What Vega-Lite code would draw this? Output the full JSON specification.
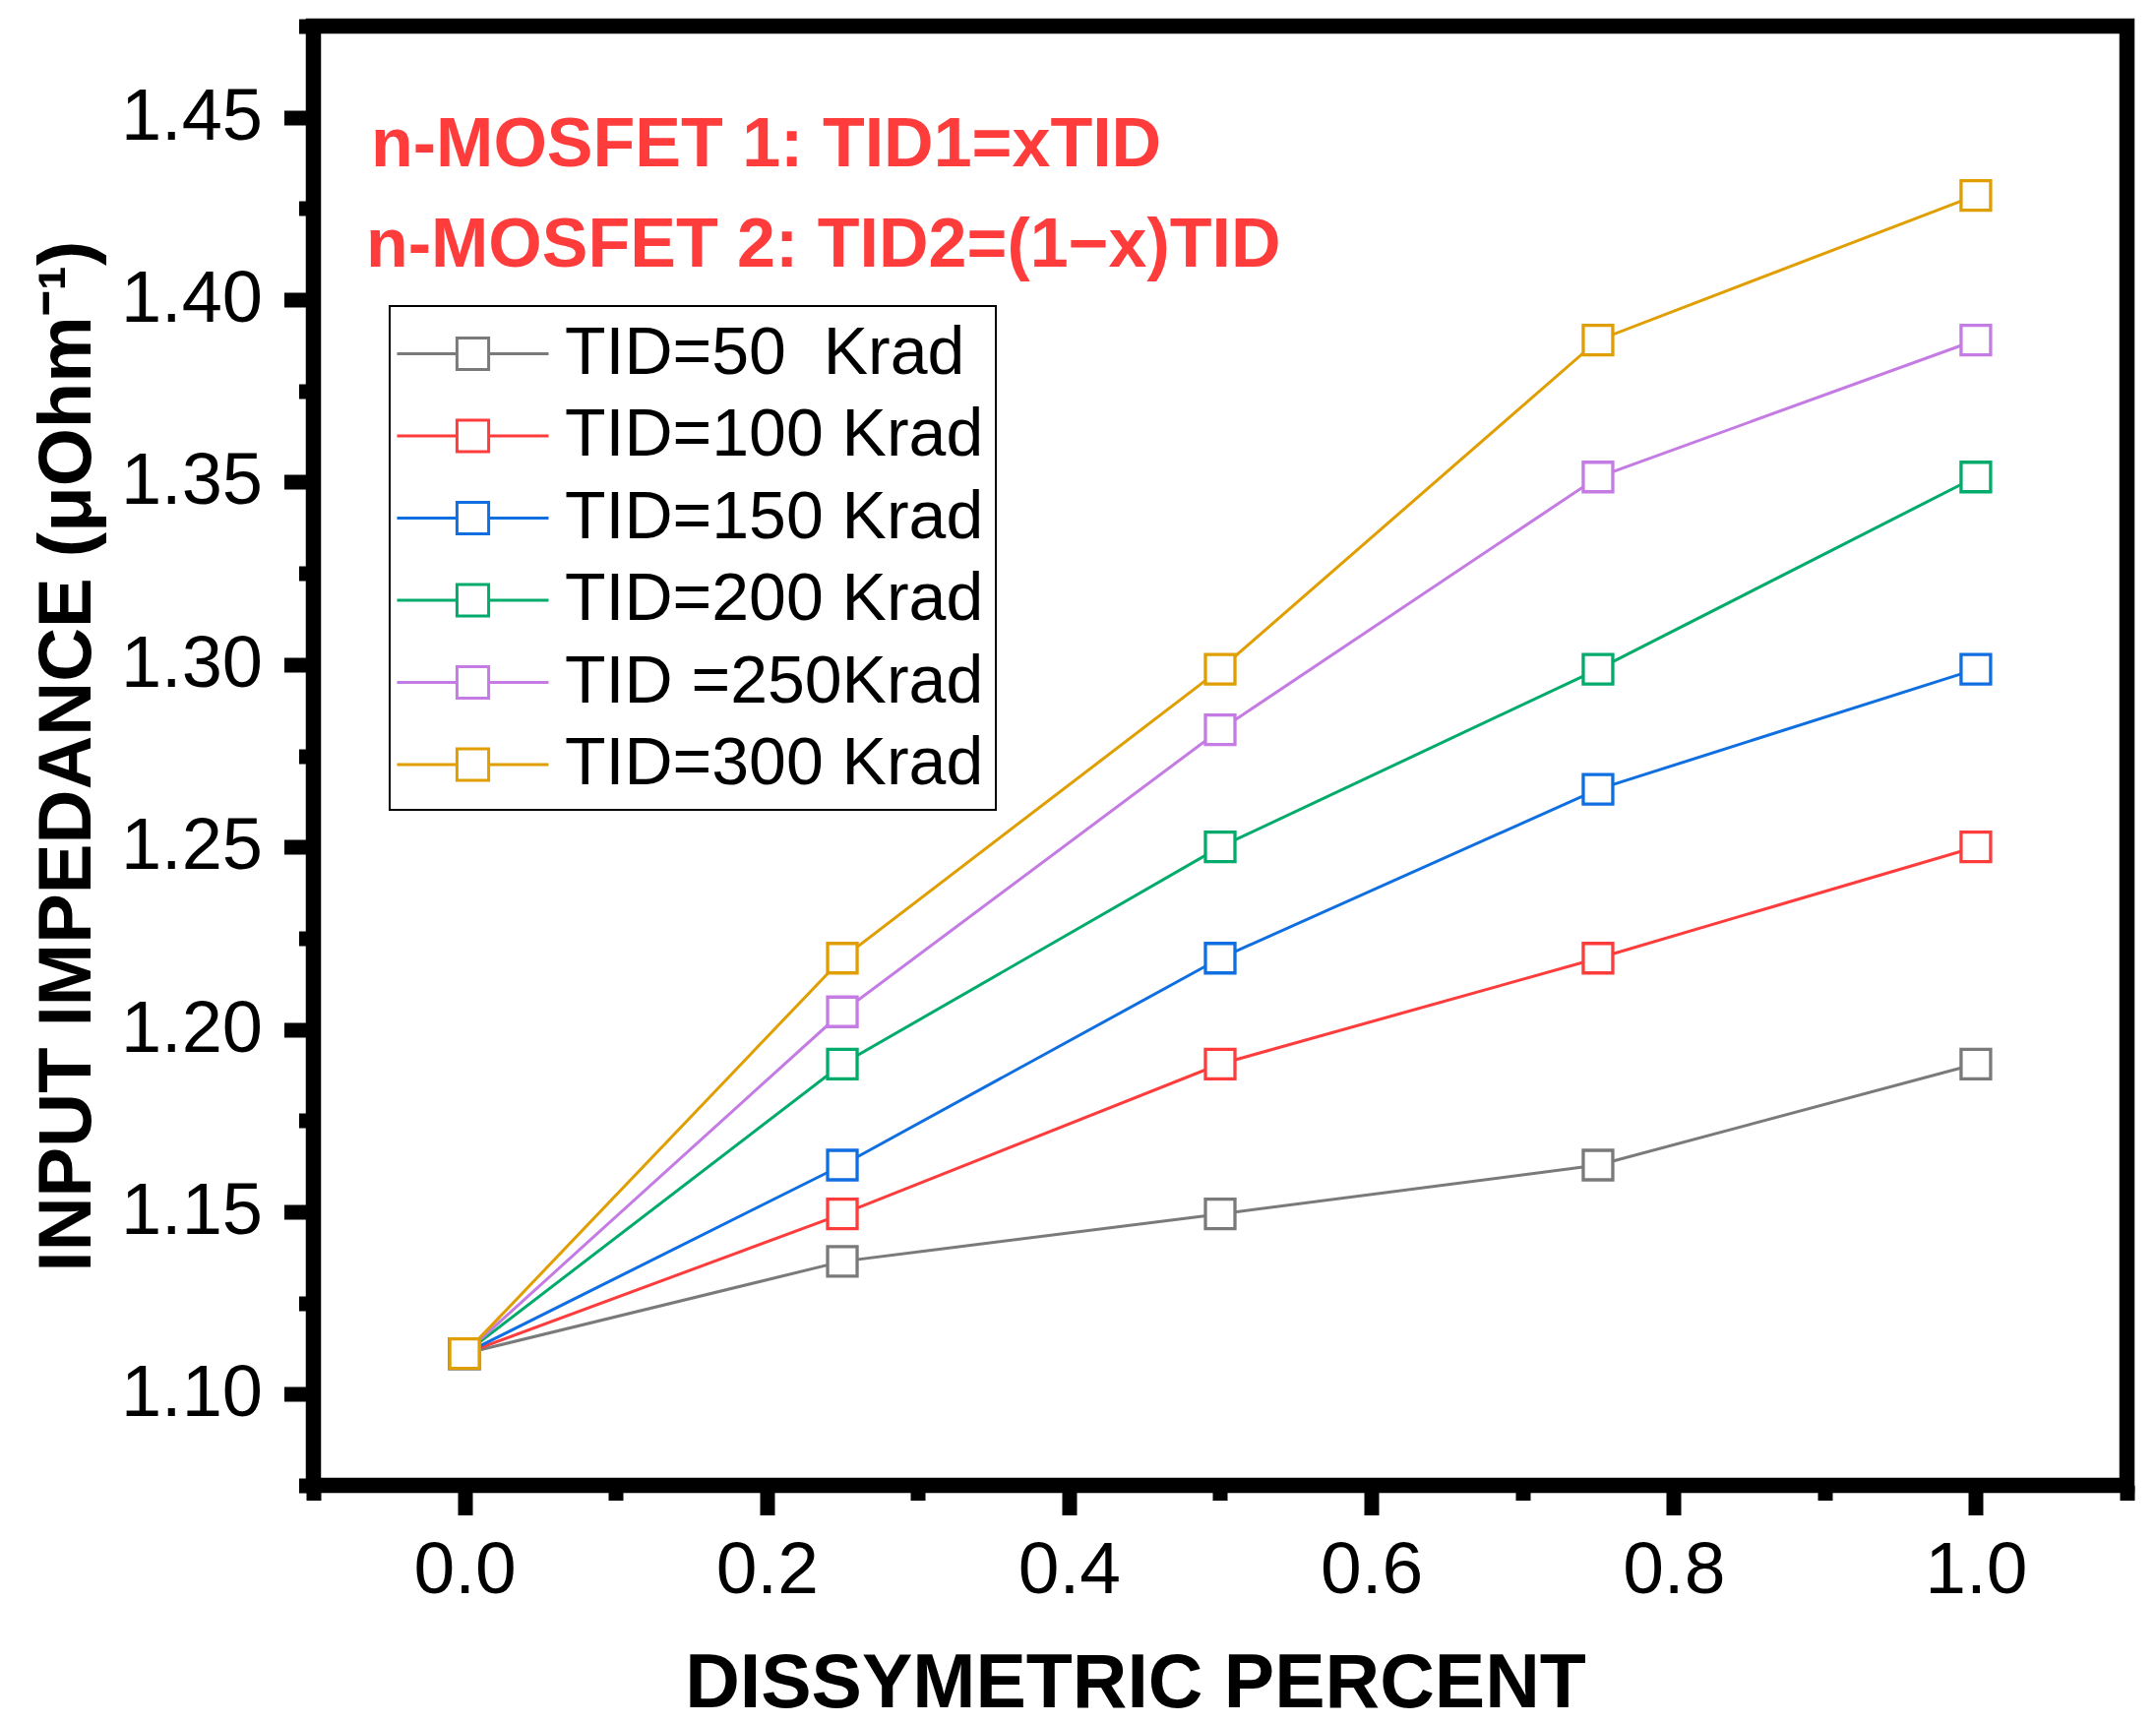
{
  "$schema": "https://vega.github.io/schema/vega-lite/v6.json",
  "width": 1843,
  "height": 1483,
  "autosize": {"type": "none"},
  "padding": {"left": 318.5, "top": 26.5, "right": 29.5, "bottom": 242.5},
  "background": "white",
  "config": {
    "font": "Liberation Sans",
    "view": {"stroke": "black", "strokeWidth": 15.5},
    "legend": {"strokeWidth": 2}
  },
  "layer": [
    {
      "data": {
        "values": [
          {"series": "TID=50\u00a0 Krad", "x": 0, "y": 1.1111},
          {"series": "TID=50\u00a0 Krad", "x": 0.25, "y": 1.1364},
          {"series": "TID=50\u00a0 Krad", "x": 0.5, "y": 1.1494},
          {"series": "TID=50\u00a0 Krad", "x": 0.75, "y": 1.1628},
          {"series": "TID=50\u00a0 Krad", "x": 1, "y": 1.1905},
          {"series": "TID=100 Krad", "x": 0, "y": 1.1111},
          {"series": "TID=100 Krad", "x": 0.25, "y": 1.1494},
          {"series": "TID=100 Krad", "x": 0.5, "y": 1.1905},
          {"series": "TID=100 Krad", "x": 0.75, "y": 1.2195},
          {"series": "TID=100 Krad", "x": 1, "y": 1.25},
          {"series": "TID=150 Krad", "x": 0, "y": 1.1111},
          {"series": "TID=150 Krad", "x": 0.25, "y": 1.1628},
          {"series": "TID=150 Krad", "x": 0.5, "y": 1.2195},
          {"series": "TID=150 Krad", "x": 0.75, "y": 1.2658},
          {"series": "TID=150 Krad", "x": 1, "y": 1.2987},
          {"series": "TID=200 Krad", "x": 0, "y": 1.1111},
          {"series": "TID=200 Krad", "x": 0.25, "y": 1.1905},
          {"series": "TID=200 Krad", "x": 0.5, "y": 1.25},
          {"series": "TID=200 Krad", "x": 0.75, "y": 1.2987},
          {"series": "TID=200 Krad", "x": 1, "y": 1.3514},
          {"series": "TID =250Krad", "x": 0, "y": 1.1111},
          {"series": "TID =250Krad", "x": 0.25, "y": 1.2048},
          {"series": "TID =250Krad", "x": 0.5, "y": 1.2821},
          {"series": "TID =250Krad", "x": 0.75, "y": 1.3514},
          {"series": "TID =250Krad", "x": 1, "y": 1.3889},
          {"series": "TID=300 Krad", "x": 0, "y": 1.1111},
          {"series": "TID=300 Krad", "x": 0.25, "y": 1.2195},
          {"series": "TID=300 Krad", "x": 0.5, "y": 1.2987},
          {"series": "TID=300 Krad", "x": 0.75, "y": 1.3889},
          {"series": "TID=300 Krad", "x": 1, "y": 1.4286}
        ]
      },
      "encoding": {
        "x": {
          "field": "x",
          "type": "quantitative",
          "scale": {"domain": [-0.1, 1.1], "nice": false, "zero": false},
          "axis": {
            "title": "DISSYMETRIC PERCENT",
            "values": [-0.1, 0, 0.1, 0.2, 0.3, 0.4, 0.5, 0.6, 0.7, 0.8, 0.9, 1, 1.1],
            "format": ".1f",
            "labelExpr": "abs(datum.value*5-round(datum.value*5))<0.001 ? datum.label : ''",
            "domain": false,
            "grid": false,
            "tickColor": "black",
            "tickWidth": 15,
            "tickSize": {"condition": {"test": "abs(datum.value*5-round(datum.value*5))<0.001", "value": 30}, "value": 15},
            "labelFont": "Liberation Sans",
            "labelFontSize": 75,
            "labelColor": "black",
            "labelPadding": 20,
            "labelFlush": false,
            "labelOverlap": false,
            "titleFont": "Liberation Sans",
            "titleFontSize": 77,
            "titleFontWeight": "bold",
            "titleColor": "black",
            "titlePadding": 40,
            "titleX": 835
          }
        },
        "y": {
          "field": "y",
          "type": "quantitative",
          "scale": {"domain": [1.075, 1.475], "nice": false, "zero": false},
          "axis": {
            "title": "INPUT IMPEDANCE (μOhm⁻¹)",
            "values": [1.075, 1.1, 1.125, 1.15, 1.175, 1.2, 1.225, 1.25, 1.275, 1.3, 1.325, 1.35, 1.375, 1.4, 1.425, 1.45, 1.475],
            "format": ".2f",
            "labelExpr": "abs(datum.value*20-round(datum.value*20))<0.001 ? datum.label : ''",
            "domain": false,
            "grid": false,
            "tickColor": "black",
            "tickWidth": 15,
            "tickSize": {"condition": {"test": "abs(datum.value*20-round(datum.value*20))<0.001", "value": 30}, "value": 15},
            "labelFont": "Liberation Sans",
            "labelFontSize": 74,
            "labelColor": "black",
            "labelPadding": 22,
            "labelFlush": false,
            "labelOverlap": false,
            "titleFont": "Liberation Sans",
            "titleFontSize": 76,
            "titleFontWeight": "bold",
            "titleColor": "black",
            "titlePadding": 15
          }
        },
        "color": {
          "field": "series",
          "type": "nominal",
          "scale": {
            "domain": ["TID=50\u00a0 Krad", "TID=100 Krad", "TID=150 Krad", "TID=200 Krad", "TID =250Krad", "TID=300 Krad"],
            "range": ["#7a7a7a", "#ff3c3c", "#0f6fe0", "#00ab6b", "#c47be3", "#e09e00"]
          },
          "legend": {
            "orient": "none",
            "legendX": 77.5,
            "legendY": 284.5,
            "title": null,
            "strokeColor": "black",
            "fillColor": "white",
            "padding": 12,
            "cornerRadius": 0,
            "labelFont": "Liberation Sans",
            "labelFontSize": 68,
            "labelColor": "black",
            "labelLimit": 0,
            "labelOffset": 57,
            "rowPadding": 12.5,
            "symbolType": "M-2.2,0H-0.46M0.46,0H2.2M-0.46,-0.46H0.46V0.46H-0.46Z",
            "symbolSize": 4900,
            "symbolOffset": 36,
            "symbolStrokeWidth": 3,
            "symbolFillColor": "white",
            "symbolOpacity": 1
          }
        }
      },
      "layer": [
        {"mark": {"type": "line", "strokeWidth": 3}},
        {"mark": {"type": "point", "shape": "square", "size": 900, "strokeWidth": 3.3, "filled": false, "fill": "white", "opacity": 1}}
      ]
    },
    {
      "data": {
        "values": [
          {"x": -0.0619, "y": 1.4366, "text": "n-MOSFET 1: TID1=xTID"},
          {"x": -0.0652, "y": 1.4091, "text": "n-MOSFET 2: TID2=(1−x)TID"}
        ]
      },
      "mark": {"type": "text", "align": "left", "baseline": "alphabetic", "font": "Liberation Sans", "fontSize": 70, "fontWeight": "bold", "color": "#ff3c3c"},
      "encoding": {
        "x": {"field": "x", "type": "quantitative"},
        "y": {"field": "y", "type": "quantitative"},
        "text": {"field": "text"}
      }
    }
  ]
}
